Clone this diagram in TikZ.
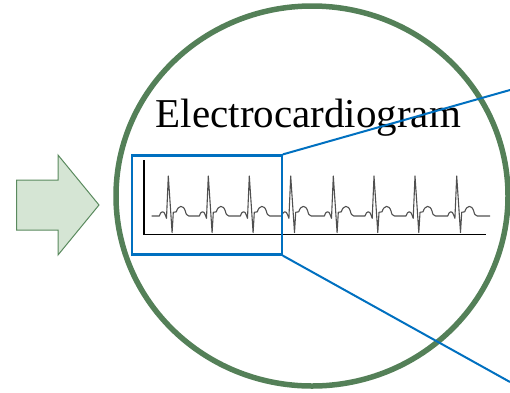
\documentclass[tikz,border=0pt]{standalone}
\usepackage{fontspec}
\setmainfont{Liberation Serif}
\definecolor{ringgreen}{RGB}{84,128,88}
\definecolor{arrowfill}{RGB}{213,229,212}
\definecolor{arrowline}{RGB}{90,138,94}
\definecolor{zoomblue}{RGB}{0,112,192}
\definecolor{ecggray}{RGB}{80,80,80}
\tikzset{
  ring/.style={draw=ringgreen, line width=5.5pt},
  bigarrow/.style={fill=arrowfill, draw=arrowline, line width=1pt, line join=miter},
  zoomframe/.style={draw=zoomblue, line width=2.2pt, inner sep=0pt, minimum width=150pt, minimum height=99pt},
  zoomline/.style={draw=zoomblue, line width=2pt},
  ecgaxis/.style={draw=black, line width=1.8pt},
  ecgtrace/.style={draw=ecggray, line width=1.1pt, line join=round},
  titletext/.style={font=\fontsize{41}{48}\selectfont, anchor=base, inner sep=0pt}
}
\begin{document}
\begin{tikzpicture}[x=1pt, y=-1pt]
\useasboundingbox (0,0) rectangle (510,392);
% green block arrow
\draw[bigarrow] (16.7,180) -- (58,180) -- (58,155) -- (99,205) -- (58,255) -- (58,230) -- (16.7,230) -- cycle;
% magnifier ring
\draw[ring] (312,196) ellipse [x radius=196, y radius=190];
% title
\node[titletext] (title) at (308.3,127.7) {Electrocardiogram};
% ECG axes
\coordinate (axtop) at (144,160);
\coordinate (axorigin) at (144,234.4);
\coordinate (axend) at (486,234.4);
\draw[ecgaxis] (axtop) -- (axorigin) -- (axend);
% ECG trace
\draw[ecgtrace] (151.7,216)
  foreach \r in {168.3,208.3,249.3,290.7,333.3,374,415,456.7} {
    -- (\r-9,216)
    .. controls (\r-7.5,210.5) and (\r-4.2,210.5) .. (\r-3,215)
    -- (\r-1.8,218.3) -- (\r,176) -- (\r+3.8,232.6) -- (\r+5,212.3) -- (\r+8,211.8)
    .. controls (\r+10,205) and (\r+15,204.5) .. (\r+17,211)
    .. controls (\r+18,214.8) .. (\r+20.5,216)
  } -- (490,216);
% zoom frame and guide lines
\node[zoomframe] (zoombox) at (206.7,205) {};
\coordinate (uppertarget) at (510,90);
\coordinate (lowertarget) at (510,382);
\draw[zoomline] (zoombox.north east) -- (uppertarget);
\draw[zoomline] (zoombox.south east) -- (lowertarget);
\end{tikzpicture}
\end{document}
